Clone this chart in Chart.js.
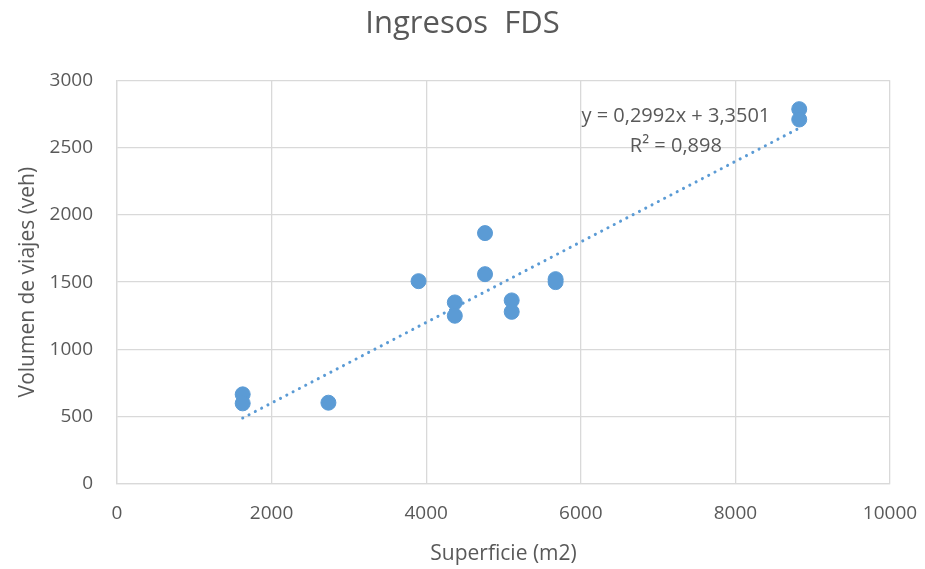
<!DOCTYPE html>
<html lang="es">
<head>
    <meta charset="UTF-8">
    <title>Ingresos FDS</title>
    <script src="https://cdn.jsdelivr.net/npm/chart.js"></script>
    <style>
        html, body { margin: 0; padding: 0; background: #fff; }
        #wrap { width: 925px; height: 569px; }
    </style>
</head>
<body>
<div id="wrap"><canvas id="fdsChart"></canvas></div>
<script>
    // superficie (m2) y volumen de viajes (veh)
    var superficie = [1626, 1626, 2735, 3901, 4370, 4370, 4761, 4761, 5106, 5106, 5674, 5674, 8826, 8826];
    var volumen    = [666, 599, 604, 1507, 1349, 1250, 1864, 1559, 1364, 1279, 1522, 1500, 2785, 2708];

    // linea de tendencia (extremos)
    var trendX = [1626, 8826];
    var trendY = [490, 2644];
    var ecuacion = 'y = 0,2992x + 3,3501';
    var r2 = 'R² = 0,898';

    var xTicks = [0, 2000, 4000, 6000, 8000, 10000];
    var yTicks = [0, 500, 1000, 1500, 2000, 2500, 3000];

    var txt = '#595959';
    var fontFam = '"Open Sans", Lato, sans-serif';

    var puntos = superficie.map(function(x, i) { return { x: x, y: volumen[i] }; });
    var tendencia = trendX.map(function(x, i) { return { x: x, y: trendY[i] }; });

    // texto de la ecuacion
    var eqLabel = {
        id: 'eqLabel',
        afterDatasetsDraw: function(chart) {
            var c = chart.ctx;
            var xs = chart.scales.x, ys = chart.scales.y;
            c.save();
            c.fillStyle = txt;
            c.font = '20px ' + fontFam;
            c.textAlign = 'center';
            c.textBaseline = 'middle';
            c.fillText(ecuacion, xs.getPixelForValue(7230), ys.getPixelForValue(2735));
            c.fillText(r2, xs.getPixelForValue(7230), ys.getPixelForValue(2510));
            c.restore();
        }
    };

    var ctx = document.getElementById('fdsChart').getContext('2d');
    var chart = new Chart(ctx, {
        type: 'scatter',
        data: {
            datasets: [{
                label: 'Volumen',
                data: puntos,
                backgroundColor: '#5B9BD5',
                borderColor: '#5B9BD5',
                pointRadius: 7.5,
                pointHoverRadius: 7.5
            }, {
                label: 'Tendencia',
                type: 'line',
                data: tendencia,
                showLine: true,
                borderColor: '#5B9BD5',
                borderWidth: 3,
                borderDash: [0.1, 7],
                borderCapStyle: 'round',
                pointRadius: 0,
                fill: false
            }]
        },
        options: {
            responsive: true,
            maintainAspectRatio: false,
            animation: false,
            layout: { padding: 0 },
            plugins: {
                legend: { display: false },
                tooltip: { enabled: false },
                title: {
                    display: true,
                    text: 'Ingresos  FDS',
                    color: txt,
                    font: { family: fontFam, size: 31, weight: 'normal' },
                    padding: { top: 6, bottom: 37 }
                }
            },
            scales: {
                x: {
                    type: 'linear',
                    min: 0,
                    max: 10000,
                    afterBuildTicks: function(s) { s.ticks = xTicks.map(function(v) { return { value: v }; }); },
                    afterFit: function(s) { s.height = 85; s.paddingRight = 35; s.paddingLeft = 0; },
                    grid: { color: '#d9d9d9', lineWidth: 1.3, drawTicks: false },
                    border: { color: '#d9d9d9', width: 1.3 },
                    ticks: {
                        color: txt, font: { family: fontFam, size: 19 }, padding: 18,
                        callback: function(v) { return String(v); }
                    },
                    title: {
                        display: true,
                        text: 'Superficie (m2)',
                        color: txt,
                        font: { family: fontFam, size: 21 },
                        padding: { top: 4, bottom: 2 }
                    }
                },
                y: {
                    min: 0,
                    max: 3000,
                    afterBuildTicks: function(s) { s.ticks = yTicks.map(function(v) { return { value: v }; }); },
                    afterFit: function(s) { s.width = 117; },
                    grid: { color: '#d9d9d9', lineWidth: 1.3, drawTicks: false },
                    border: { color: '#d9d9d9', width: 1.3 },
                    ticks: {
                        color: txt, font: { family: fontFam, size: 19 }, padding: 24,
                        callback: function(v) { return String(v); }
                    },
                    title: {
                        display: true,
                        text: 'Volumen de viajes (veh)',
                        color: txt,
                        font: { family: fontFam, size: 21 },
                        padding: { top: 15, bottom: 4 }
                    }
                }
            }
        },
        plugins: [eqLabel]
    });
</script>
</body>
</html>
